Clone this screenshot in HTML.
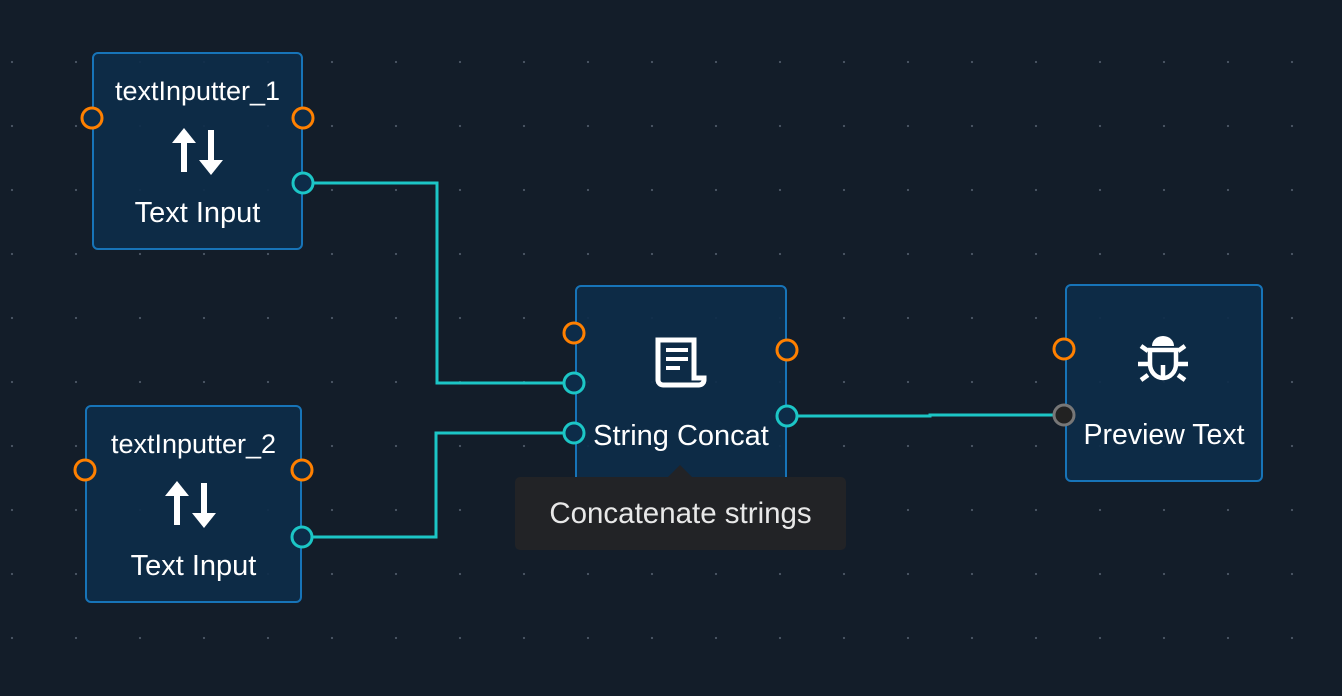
<!DOCTYPE html>
<html><head><style>
html,body{margin:0;padding:0;}
body{width:1342px;height:696px;background:#131d29;position:relative;overflow:hidden;font-family:"Liberation Sans",sans-serif;
background-image:radial-gradient(circle,#4a5563 1px,transparent 1.3px);background-size:64px 64px;background-position:-20px 30px;}
.n{position:absolute;box-sizing:border-box;border:2px solid #1774b8;border-radius:6px;background:rgba(13,44,73,0.92);color:#fff;text-align:center;}
.t{position:absolute;left:-20px;right:-20px;font-size:27px;white-space:nowrap;}
svg{position:absolute;left:0;top:0;}
.tip{position:absolute;left:515px;top:477px;width:331px;height:73px;background:#222326;border-radius:5px;color:#e8e8e8;font-size:29.5px;line-height:73px;text-align:center;}
</style></head><body>
<div class="n" style="left:92px;top:52px;width:211px;height:198px">
<div class="t" style="top:22px">textInputter_1</div>
<div class="t" style="top:143px;font-size:29px">Text Input</div></div>
<div class="n" style="left:85px;top:405px;width:217px;height:198px">
<div class="t" style="top:22px">textInputter_2</div>
<div class="t" style="top:143px;font-size:29px">Text Input</div></div>
<div class="n" style="left:575px;top:285px;width:212px;height:199px">
<div class="t" style="top:133px;font-size:29px">String Concat</div></div>
<div class="n" style="left:1065px;top:284px;width:198px;height:198px">
<div class="t" style="top:133px;font-size:28.5px">Preview Text</div></div>
<div class="tip">Concatenate strings</div>
<svg width="1342" height="696">
<polygon points="668,477 680,465 692,477" fill="#222326"/>
<g fill="none" stroke="#1cc6c6" stroke-width="3">
<polyline points="313,183 437,183 437,383 564,383"/>
<polyline points="312,537 436,537 436,433 564,433"/>
<polyline points="797,416 930,416 930,415 1054,415"/>
</g>
<g fill="#fff">
<g id="ar"><rect x="181" y="140" width="6" height="32"/><polygon points="172,143 184,128 196,143"/><rect x="208" y="130" width="6" height="32"/><polygon points="199,160 211,175 223,160"/></g>
<use href="#ar" transform="translate(-7,353)"/>
</g>
<g fill="none" stroke="#fff" stroke-width="5">
<path d="M658,340 h36 v38 h10 v2 a5,5 0 0 1 -5,5 h-36 a5,5 0 0 1 -5,-5 z"/>
</g>
<g fill="#fff"><rect x="666" y="348" width="22" height="4"/><rect x="666" y="357" width="22" height="4"/><rect x="666" y="366" width="14" height="4"/></g>
<g fill="none" stroke="#fff" stroke-width="4.5">
<path d="M1150,350 h26 v14 a13,14 0 0 1 -26,0 z"/>
<path d="M1163,365 v12 M1138,364 h10 M1178,364 h10 M1148,351 l-7,-5 M1178,351 l7,-5 M1148,375 l-7,5 M1178,375 l7,5"/>
</g>
<path d="M1152,346 a11,10 0 0 1 22,0 z" fill="#fff"/>
<g stroke-width="3" fill="#0d2c49">
<g stroke="#ff8000">
<circle cx="92" cy="118" r="10"/><circle cx="303" cy="118" r="10"/>
<circle cx="85" cy="470" r="10"/><circle cx="302" cy="470" r="10"/>
<circle cx="574" cy="333" r="10"/><circle cx="787" cy="350" r="10"/>
<circle cx="1064" cy="349" r="10"/></g>
<g stroke="#1cc6c6">
<circle cx="303" cy="183" r="10"/><circle cx="302" cy="537" r="10"/>
<circle cx="574" cy="383" r="10"/><circle cx="574" cy="433" r="10"/>
<circle cx="787" cy="416" r="10"/></g>
<circle cx="1064" cy="415" r="10" stroke="#777" fill="#222"/>
</g>
</svg>
</body></html>
